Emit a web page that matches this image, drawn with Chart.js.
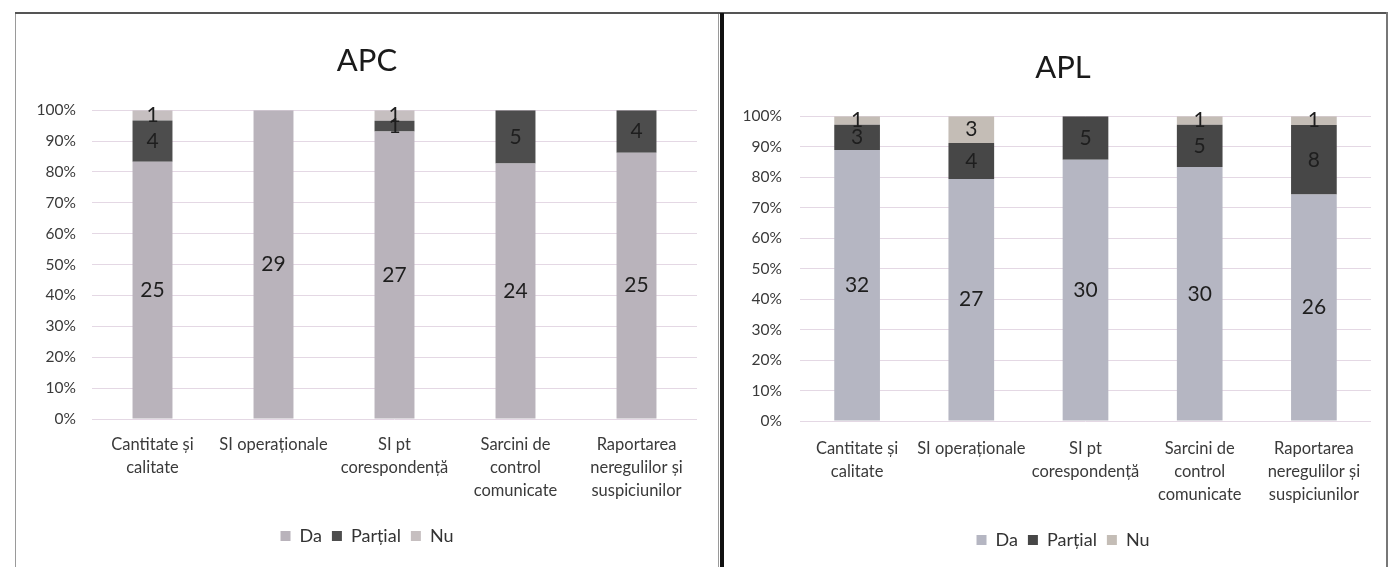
<!DOCTYPE html>
<html>
<head>
<meta charset="utf-8">
<script src="https://cdn.jsdelivr.net/npm/chart.js@4.4.1/dist/chart.umd.min.js"></script>
<style>
  html, body { margin: 0; padding: 0; background: #ffffff; }
  body { width: 1390px; height: 567px; position: relative; overflow: hidden; font-family: Lato, "Open Sans", sans-serif; }
  .panel { position: absolute; }
  #p1 { left: 16px; top: 13px; width: 702px; height: 554px; }
  #p2 { left: 725px; top: 18px; width: 665px; height: 549px; }
  #b1 { position: absolute; left: 15px; top: 12px; width: 704px; height: 570px; border: 1px solid #9a9a9a; box-sizing: border-box; }
  #topline { position: absolute; left: 15px; top: 12px; width: 1372px; height: 2px; background: #555; }
  #divider { position: absolute; left: 720px; top: 13px; width: 4px; height: 560px; background: #111; }
  #rightline { position: absolute; left: 1386px; top: 12px; width: 2px; height: 560px; background: #777; }
</style>
</head>
<body>
<div id="b1"></div>
<div id="topline"></div>
<div id="divider"></div>
<div id="rightline"></div>
<div class="panel" id="p1"><canvas id="c1"></canvas></div>
<div class="panel" id="p2"><canvas id="c2"></canvas></div>
<script>
// ---- data ----
const categories = [
  ["Cantitate și", "calitate"],
  ["SI operaționale"],
  ["SI pt", "corespondență"],
  ["Sarcini de", "control", "comunicate"],
  ["Raportarea", "neregulilor și", "suspiciunilor"]
];
const seriesNames = ["Da", "Parțial", "Nu"];

const apcDa      = [25, 29, 27, 24, 25];
const apcPartial = [4, 0, 1, 5, 4];
const apcNu      = [1, 0, 1, 0, 0];

const aplDa      = [32, 27, 30, 30, 26];
const aplPartial = [3, 4, 5, 5, 8];
const aplNu      = [1, 3, 0, 1, 1];

const yTickValues = [0, 10, 20, 30, 40, 50, 60, 70, 80, 90, 100];

// ---- helpers ----
function toPercent(seriesList) {
  const n = seriesList[0].length;
  const totals = [];
  for (let i = 0; i < n; i++) {
    let t = 0;
    seriesList.forEach(s => t += s[i]);
    totals.push(t);
  }
  return seriesList.map(s => s.map((v, i) => totals[i] ? v / totals[i] * 100 : 0));
}

const countLabels = {
  id: 'countLabels',
  afterDatasetsDraw(chart) {
    const ctx = chart.ctx;
    ctx.save();
    ctx.font = '21px Lato, "Open Sans", sans-serif';
    ctx.fillStyle = '#1e1e1e';
    ctx.textAlign = 'center';
    ctx.textBaseline = 'middle';
    chart.data.datasets.forEach((ds, di) => {
      const meta = chart.getDatasetMeta(di);
      meta.data.forEach((el, i) => {
        const c = ds.counts[i];
        if (!c) return;
        const p = el.getProps(['x', 'y', 'base'], true);
        ctx.fillText(String(c), p.x, (p.y + p.base) / 2);
      });
    });
    ctx.restore();
  }
};

function makeChart(id, title, counts, colors, cfg) {
  const pct = toPercent(counts);
  const ctx = document.getElementById(id);
  return new Chart(ctx, {
    type: 'bar',
    data: {
      labels: categories,
      datasets: seriesNames.map((name, k) => ({
        label: name,
        data: pct[k],
        counts: counts[k],
        backgroundColor: colors[k],
        borderWidth: 0,
        categoryPercentage: cfg.cat,
        barPercentage: cfg.bar
      }))
    },
    options: {
      responsive: true,
      maintainAspectRatio: false,
      animation: false,
      layout: { padding: { left: cfg.padLeft, right: cfg.padRight, top: 0, bottom: cfg.padBottom } },
      plugins: {
        title: {
          display: true,
          text: title,
          color: '#1a1a1a',
          font: { size: 31, family: 'Lato, "Open Sans", sans-serif', weight: 'normal' },
          padding: { top: cfg.titleTop, bottom: cfg.titleBottom }
        },
        legend: {
          position: 'bottom',
          labels: {
            boxWidth: 10, boxHeight: 10,
            color: '#333',
            font: { size: 18, family: 'Lato, "Open Sans", sans-serif' },
            padding: 10
          }
        },
        tooltip: { enabled: false }
      },
      scales: {
        x: {
          stacked: true,
          grid: { display: false, drawTicks: false },
          border: { display: false },
          ticks: {
            color: '#3a3a3a',
            font: { size: 16.5, family: 'Lato, "Open Sans", sans-serif', lineHeight: 1.4 },
            padding: cfg.xPad,
            maxRotation: 0, autoSkip: false
          },
          afterFit(scale) { scale.height = cfg.xHeight; }
        },
        y: {
          stacked: true,
          min: 0, max: 100,
          afterBuildTicks(scale) { scale.ticks = yTickValues.map(v => ({ value: v })); },
          grid: { color: '#e4d8e4', lineWidth: 1, drawTicks: false },
          border: { display: false },
          ticks: {
            color: '#3a3a3a',
            font: { size: 15.5, family: 'Lato, "Open Sans", sans-serif' },
            padding: cfg.yPad,
            callback: v => v + '%'
          },
          afterFit(scale) { scale.width = cfg.yWidth; }
        },
        spacer: {
          type: 'linear',
          position: 'right',
          display: true,
          grid: { display: false, drawTicks: false },
          border: { display: false },
          ticks: { display: false },
          afterFit(scale) { scale.width = cfg.rightGap; }
        }
      }
    },
    plugins: [countLabels]
  });
}

makeChart('c1', 'APC', [apcDa, apcPartial, apcNu],
  ['#b9b3bb', '#4d4d4d', '#c6bfc0'],
  { cat: 0.5, bar: 0.66, padLeft: 14, padRight: 14, padBottom: 12, titleTop: 29, titleBottom: 31,
    xHeight: 98, xPad: 14, yWidth: 62, yPad: 16, rightGap: 7 });

makeChart('c2', 'APL', [aplDa, aplPartial, aplNu],
  ['#b5b6c2', '#474747', '#c4bdb6'],
  { cat: 0.5, bar: 0.8, padLeft: 11, padRight: 0, padBottom: 8, titleTop: 31, titleBottom: 30,
    xHeight: 100, xPad: 16, yWidth: 64, yPad: 18, rightGap: 19 });
</script>
</body>
</html>
